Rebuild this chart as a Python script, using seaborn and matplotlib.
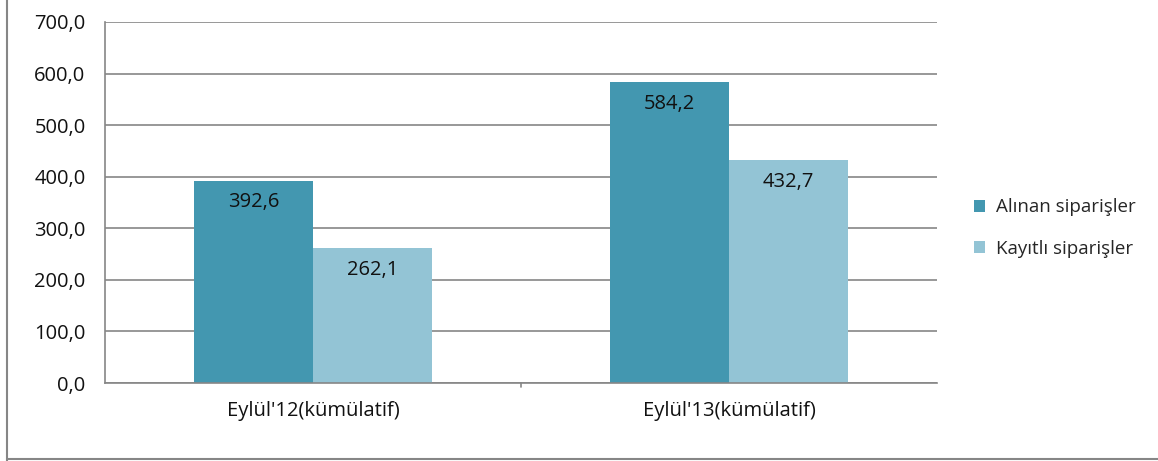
import matplotlib
matplotlib.use("Agg")
import matplotlib.pyplot as plt
import seaborn as sns
import pandas as pd
from matplotlib.patches import Patch
from matplotlib.lines import Line2D

categories = ["Eylül'12(kümülatif)", "Eylül'13(kümülatif)"]
series_names = ["Alınan siparişler", "Kayıtlı siparişler"]
alinan = [392.6, 584.2]
kayitli = [262.1, 432.7]
yticks = [0, 100, 200, 300, 400, 500, 600, 700]

colors = ["#4397B0", "#93C4D5"]

df = pd.DataFrame({
    "cat": categories * 2,
    "series": [series_names[0]] * 2 + [series_names[1]] * 2,
    "val": alinan + kayitli,
})

sns.set_style("white")
plt.rcParams["font.family"] = ["Open Sans", "DejaVu Sans"]
FS = 14.5

fig = plt.figure(figsize=(11.58, 4.61), dpi=100)
ax = fig.add_axes([105 / 1158, 1 - 383 / 461, (937 - 105) / 1158, (383 - 22) / 461])

sns.barplot(data=df, x="cat", y="val", hue="series", palette=colors,
            width=0.57, gap=0, ax=ax, legend=False, saturation=1)

ax.set_ylim(0, 700)
ax.set_xlim(-0.5, 1.5)
ax.set_yticks(yticks)
ax.set_yticklabels([f"{v:.1f}".replace(".", ",") for v in yticks], fontsize=FS, color="#111111")
ax.set_xlabel("")
ax.set_ylabel("")
ax.tick_params(axis="x", length=0, labelsize=FS, pad=13, colors="#111111")
ax.tick_params(axis="y", length=7, width=1.2, color="#868686", pad=7)
ax.set_xticks([0, 1])
ax.set_xticklabels(categories)
for lab in ax.get_xticklabels():
    lab.set_color("#111111")

ax.grid(axis="y", color="#868686", linewidth=1.2)
ax.set_axisbelow(True)
for s in ["top", "right"]:
    ax.spines[s].set_visible(False)
for s in ["left", "bottom"]:
    ax.spines[s].set_color("#868686")
    ax.spines[s].set_linewidth(1.2)

# category separator tick on x axis
ax.plot([0.5, 0.5], [0, -0.012], transform=ax.get_xaxis_transform(), color="#868686",
        linewidth=1.2, clip_on=False)

for p in ax.patches:
    p.set_edgecolor("none")
for cont in ax.containers:
    ax.bar_label(cont, labels=[f"{v:.1f}".replace(".", ",") for v in cont.datavalues],
                 label_type="edge", padding=-23, fontsize=FS, color="#111111")

handles = [Patch(facecolor=c, edgecolor="none") for c in colors]
fig.legend(handles, series_names, loc="center left", bbox_to_anchor=(957 / 1158, 1 - 228 / 461),
           frameon=False, fontsize=13.5, handlelength=0.6, handleheight=0.6, handletextpad=0.6,
           labelspacing=1.25)

# outer chart border
fig.add_artist(Line2D([7 / 1158, 7 / 1158], [0, 1], transform=fig.transFigure, color="#868686", linewidth=1.5))
fig.add_artist(Line2D([7 / 1158, 1], [2 / 461, 2 / 461], transform=fig.transFigure, color="#868686", linewidth=1.5))

fig.savefig("out.png", dpi=100)
